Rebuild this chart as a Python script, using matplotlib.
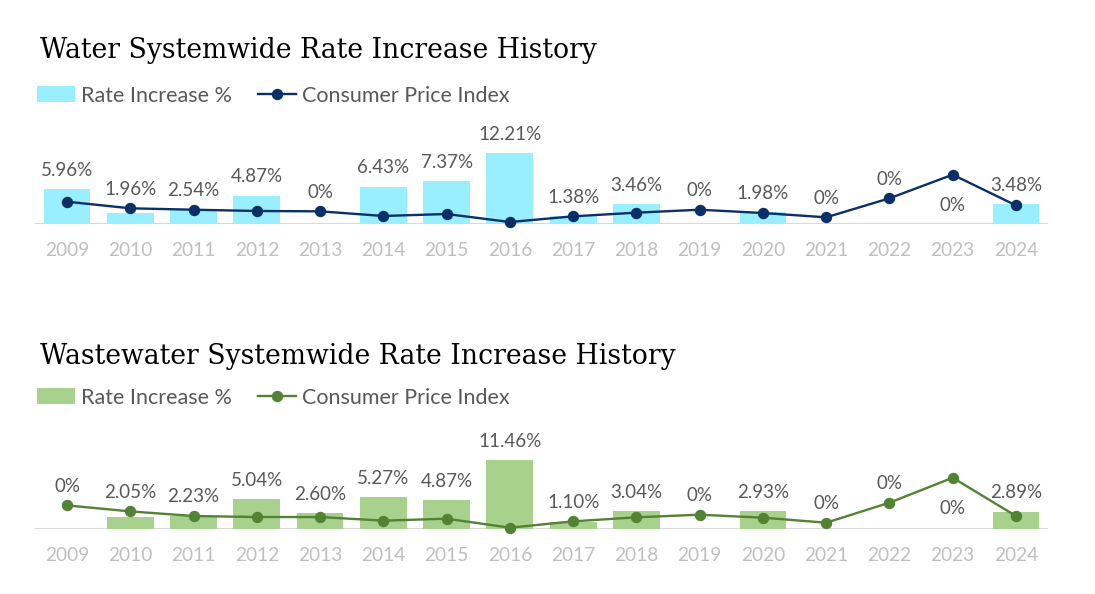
import numpy as np
import matplotlib.pyplot as plt

years = [str(y) for y in range(2009, 2025)]
water_rate = [5.96, 1.96, 2.54, 4.87, 0, 6.43, 7.37, 12.21, 1.38, 3.46, 0, 1.98, 0, 0, 0, 3.48]
water_cpi = [3.84, 2.70, 2.46, 2.24, 2.18, 1.38, 1.72, 0.34, 1.32, 1.95, 2.46, 1.89, 1.15, 4.42, 8.49, 3.20]
ww_rate = [0, 2.05, 2.23, 5.04, 2.60, 5.27, 4.87, 11.46, 1.10, 3.04, 0, 2.93, 0, 0, 0, 2.89]
ww_cpi = [3.94, 2.94, 2.17, 2.00, 2.00, 1.39, 1.72, 0.22, 1.28, 1.95, 2.39, 1.89, 1.05, 4.39, 8.56, 2.17]

W, H = 1095, 594
plt.rcParams['font.family'] = ['Lato', 'DejaVu Sans']
fig = plt.figure(figsize=(W / 100, H / 100), dpi=100)


def panel(rate, cpi, title, bar_color, line_color, base_px, px_per_pct, title_px, legend_px):
    top = 16
    ax = fig.add_axes([35.4 / W, (H - base_px) / H, 1012.2 / W, top * px_per_pct / H])
    x = np.arange(len(years))
    bars = ax.bar(x, rate, width=0.74, color=bar_color, label='Rate Increase %', zorder=2)
    line, = ax.plot(x, cpi, color=line_color, lw=1.7, marker='o', markersize=7.2,
                    label='Consumer Price Index', zorder=3, clip_on=False)
    ax.axhline(0, color='#D9D9D9', lw=1.5, zorder=1)
    ax.set_xlim(-0.5, len(years) - 0.5)
    ax.set_ylim(0, top)
    ax.set_yticks([])
    ax.set_xticks(x, years)
    ax.tick_params(axis='x', length=0, pad=13, labelsize=13.8, labelcolor='#BFBFBF')
    for s in ax.spines.values():
        s.set_visible(False)

    peak = int(np.argmax(cpi))
    for i, (r, c) in enumerate(zip(rate, cpi)):
        txt = '0%' if r == 0 else f'{r:.2f}%'
        if i == peak and c > r + 3:
            y, dy = c, -22
        else:
            y, dy = max(r, c), 13.5
        ax.annotate(txt, (i, y), xytext=(0, dy), textcoords='offset points',
                    ha='center', va='center', fontsize=13.5, color='#595959')

    fig.text(40 / W, 1 - title_px / H, title, fontsize=19.2, family='DejaVu Serif',
             va='center', ha='left', color='black')
    fig.legend(handles=[bars, line], loc='center left',
               bbox_to_anchor=(37 / W, 1 - legend_px / H), ncol=2, frameon=False,
               fontsize=15.5, handlelength=1.75, handletextpad=0.3, columnspacing=1.2,
               borderpad=0, borderaxespad=0, labelcolor='#595959')


panel(water_rate, water_cpi, 'Water Systemwide Rate Increase History',
      '#99EEFF', '#0B3068', 224, 5.81, 51, 95.5)
panel(ww_rate, ww_cpi, 'Wastewater Systemwide Rate Increase History',
      '#A9D18E', '#548235', 529, 5.99, 356, 397.5)

fig.savefig('out.png', dpi=100, facecolor='white')
